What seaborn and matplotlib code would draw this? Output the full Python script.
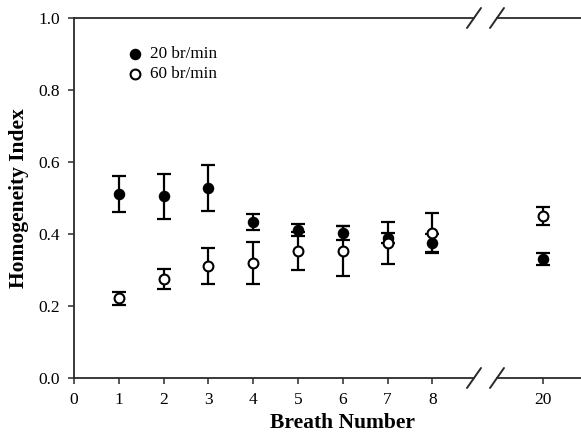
import matplotlib
matplotlib.use("Agg")
import matplotlib.pyplot as plt
import seaborn as sns
import pandas as pd
import numpy as np

# ---- data ----
breaths = [1, 2, 3, 4, 5, 6, 7, 8]
hi_20 = [0.512, 0.505, 0.528, 0.433, 0.411, 0.403, 0.389, 0.375]
err_20 = [0.050, 0.062, 0.064, 0.023, 0.017, 0.020, 0.014, 0.026]
hi_60 = [0.222, 0.275, 0.311, 0.319, 0.353, 0.353, 0.375, 0.403]
err_60 = [0.018, 0.027, 0.050, 0.058, 0.053, 0.070, 0.058, 0.055]
breath_last = [20]
hi_20_last = [0.331]
err_20_last = [0.017]
hi_60_last = [0.450]
err_60_last = [0.025]
series_labels = ["20 br/min", "60 br/min"]
left_ticks = [0, 1, 2, 3, 4, 5, 6, 7, 8]
right_ticks = [20]
y_ticks = [0.0, 0.2, 0.4, 0.6, 0.8, 1.0]

sns.set_style("ticks")
plt.rcParams["font.family"] = ["Liberation Serif", "DejaVu Serif"]
plt.rcParams["text.color"] = "black"
plt.rcParams["axes.labelcolor"] = "black"

W, H = 581, 438
fig = plt.figure(figsize=(W / 100, H / 100), dpi=100)

def fx(px):
    return px / W

def fy(py):
    return 1 - py / H

x0, x1, x2, x3 = 74, 474, 497, 581
ytop, ybot = 18, 378
ax = fig.add_axes([fx(x0), fy(ybot), fx(x1) - fx(x0), fy(ytop) - fy(ybot)])
ax2 = fig.add_axes([fx(x2), fy(ybot), fx(x3) - fx(x2), fy(ytop) - fy(ybot)], sharey=ax)

spine_c = "#2a2a2a"
lw = 1.3
msize = 50

def draw(a, xs, m20, e20, m60, e60, legend):
    d20 = pd.DataFrame({"x": xs, "y": m20})
    d60 = pd.DataFrame({"x": xs, "y": m60})
    a.errorbar(xs, m20, yerr=e20, fmt="none", ecolor="black", elinewidth=1.6,
               capsize=4.8, capthick=1.6, zorder=2)
    sns.scatterplot(data=d20, x="x", y="y", ax=a, color="black", marker="o",
                    s=msize, edgecolor="black", linewidth=1.2, zorder=3,
                    label=series_labels[0] if legend else None)
    a.errorbar(xs, m60, yerr=e60, fmt="none", ecolor="black", elinewidth=1.6,
               capsize=4.8, capthick=1.6, zorder=4)
    sns.scatterplot(data=d60, x="x", y="y", ax=a, color="white", marker="o",
                    s=msize, edgecolor="black", linewidth=1.5, zorder=5,
                    label=series_labels[1] if legend else None)

draw(ax, breaths, hi_20, err_20, hi_60, err_60, True)
draw(ax2, breath_last, hi_20_last, err_20_last, hi_60_last, err_60_last, False)

ax.set_xlim(0, (x1 - x0) / 44.8)
ax2.set_xlim(20 - (543 - x2) / 44.8, 20 + (x3 - 543) / 44.8)
ax.set_ylim(0, 1.0)
ax.set_xticks(left_ticks)
ax2.set_xticks(right_ticks)
ax.set_yticks(y_ticks)
ax.set_yticklabels([f"{v:.1f}" for v in y_ticks])

for a in (ax, ax2):
    a.spines["right"].set_visible(False)
    for s in ("top", "bottom", "left"):
        a.spines[s].set_color(spine_c)
        a.spines[s].set_linewidth(lw)
    a.tick_params(axis="both", direction="out", length=4, width=1.1,
                  color=spine_c, labelsize=12.5, labelcolor="black", pad=6)
    a.set_xlabel("")
    a.set_ylabel("")
ax2.spines["left"].set_visible(False)
ax2.tick_params(axis="y", left=False, labelleft=False)

ax.set_ylabel("Homogeneity Index", fontsize=15.5, fontweight="bold", labelpad=7,
              color="black")
fig.text(fx(342), fy(423), "Breath Number", fontsize=15.5, fontweight="bold",
         ha="center", va="center", color="black")

# break marks
for cx in (474, 497):
    for cy in (ytop, ybot):
        fig.add_artist(plt.Line2D([fx(cx - 7), fx(cx + 7)], [fy(cy + 10), fy(cy - 10)],
                                  color=spine_c, lw=1.4))

leg = ax.legend(loc="upper left", bbox_to_anchor=(0.11, 0.94), frameon=False,
                fontsize=12.3, handletextpad=0.25, labelspacing=0.22,
                borderaxespad=0, handlelength=1.2)
for t in leg.get_texts():
    t.set_color("black")

fig.savefig("out.png", dpi=100)
